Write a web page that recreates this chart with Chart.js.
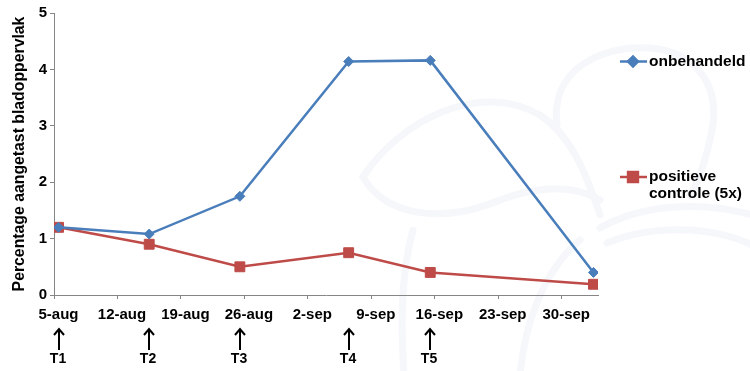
<!DOCTYPE html>
<html>
<head>
<meta charset="utf-8">
<script src="https://cdn.jsdelivr.net/npm/chart.js@4.4.1/dist/chart.umd.min.js"></script>
<style>
  html, body { margin: 0; padding: 0; background: #fff; }
  #wrap { width: 750px; height: 371px; position: relative; }
</style>
</head>
<body>
<div id="wrap"><canvas id="chart"></canvas></div>
<script>
// sampling dates and infection per series
const sampleDates = ['5-aug', '15-aug', '25-aug', '6-sep', '15-sep', '3-oct'];
const untreated = [1.2, 1.08, 1.75, 4.14, 4.16, 0.40];
const positiveControl = [1.2, 0.90, 0.50, 0.75, 0.40, 0.19];
const seriesNames = [['onbehandeld'], ['positieve', 'controle (5x)']];

// spray moments
const treatments = ['T1', 'T2', 'T3', 'T4', 'T5'];
const treatmentDates = ['5-aug', '15-aug', '25-aug', '6-sep', '15-sep'];

const tickDates = ['5-aug', '12-aug', '19-aug', '26-aug', '2-sep', '9-sep', '16-sep', '23-sep', '30-sep'];

const FONT = "'Liberation Sans', Arial, sans-serif";
const AXIS_GREY = '#868686';
const BLUE = '#4a7ebb';
const RED = '#be4b48';

const monthStart = { aug: 0, sep: 31, oct: 61 };
function dayNr(label) {
    const [d, m] = label.split('-');
    return parseInt(d) - 5 + monthStart[m];
}

function points(values) {
    return values.map((v, i) => ({ x: dayNr(sampleDates[i]), y: v }));
}

// faint logo curves in the slide background
const watermark = {
    id: 'watermark',
    beforeDraw(chart) {
        const ctx = chart.ctx;
        ctx.save();
        ctx.strokeStyle = '#f5f7fb';
        ctx.lineWidth = 7;
        ctx.lineCap = 'round';
        const paths = [
            [363, 177, 400, 120, 480, 80, 540, 115, 570, 135, 585, 170, 600, 215],
            [363, 177, 385, 215, 440, 225, 500, 200, 540, 185, 575, 185, 600, 200],
            [557, 125, 550, 70, 600, 45, 650, 48, 700, 52, 720, 90, 712, 130],
            [712, 130, 706, 160, 700, 180, 690, 195],
            [600, 228, 640, 205, 700, 200, 752, 215],
            [607, 243, 650, 225, 710, 225, 752, 245],
            [413, 230, 402, 270, 400, 320, 404, 375],
            [520, 375, 525, 320, 545, 270, 580, 240]
        ];
        paths.forEach(p => {
            ctx.beginPath();
            ctx.moveTo(p[0], p[1]);
            for (let i = 2; i < p.length; i += 6) {
                ctx.bezierCurveTo(p[i], p[i + 1], p[i + 2], p[i + 3], p[i + 4], p[i + 5]);
            }
            ctx.stroke();
        });
        ctx.restore();
    }
};

// legend on the right, Excel style (line + marker, wrapped text)
const sideLegend = {
    id: 'sideLegend',
    afterDraw(chart) {
        const ctx = chart.ctx;
        const rows = [61.5, 177];
        ctx.save();
        chart.data.datasets.forEach((ds, i) => {
            const y = rows[i];
            ctx.strokeStyle = ds.borderColor;
            ctx.lineWidth = 2.5;
            ctx.beginPath();
            ctx.moveTo(620, y);
            ctx.lineTo(647, y);
            ctx.stroke();
            Chart.helpers.drawPoint(ctx, {
                pointStyle: ds.pointStyle,
                radius: ds.pointRadius,
                borderWidth: 1
            }, 633, y);
            ctx.fillStyle = ds.backgroundColor;
            ctx.fill();
            ctx.fillStyle = '#000';
            ctx.font = 'bold 15.5px ' + FONT;
            ctx.textBaseline = 'middle';
            ctx.textAlign = 'left';
            seriesNames[i].forEach((line, j) => ctx.fillText(line, 649, y + j * 16.5));
        });
        ctx.restore();
    }
};

// arrows with treatment names under the date axis
const sprayArrows = {
    id: 'sprayArrows',
    afterDraw(chart) {
        const ctx = chart.ctx;
        const xs = chart.scales.x;
        ctx.save();
        ctx.strokeStyle = '#000';
        ctx.fillStyle = '#000';
        ctx.lineWidth = 2;
        ctx.font = 'bold 14px ' + FONT;
        ctx.textAlign = 'center';
        ctx.textBaseline = 'middle';
        treatments.forEach((t, i) => {
            const x = Math.round(xs.getPixelForValue(dayNr(treatmentDates[i])));
            ctx.beginPath();
            ctx.moveTo(x, 329);
            ctx.lineTo(x, 350);
            ctx.moveTo(x - 5, 335);
            ctx.lineTo(x, 329);
            ctx.lineTo(x + 5, 335);
            ctx.stroke();
            ctx.fillText(t, x - 1, 359);
        });
        ctx.restore();
    }
};

new Chart(document.getElementById('chart'), {
    type: 'line',
    data: {
        datasets: [{
            label: 'onbehandeld',
            data: points(untreated),
            borderColor: BLUE,
            backgroundColor: BLUE,
            borderWidth: 2.5,
            pointStyle: 'rectRot',
            pointRadius: 5,
            pointBorderWidth: 1
        }, {
            label: 'positieve controle (5x)',
            data: points(positiveControl),
            borderColor: RED,
            backgroundColor: RED,
            borderWidth: 2.5,
            pointStyle: 'rect',
            pointRadius: 7,
            pointBorderWidth: 1
        }]
    },
    options: {
        responsive: true,
        maintainAspectRatio: false,
        animation: false,
        layout: { padding: { top: 13, right: 152, left: 0, bottom: 0 } },
        plugins: {
            legend: { display: false },
            tooltip: { enabled: false }
        },
        scales: {
            x: {
                type: 'linear',
                min: -0.5,
                max: 59.5,
                afterBuildTicks(scale) {
                    scale.ticks = tickDates.map(t => ({ value: dayNr(t) - 0.5 }));
                },
                afterFit(scale) { scale.height = 76; },
                ticks: {
                    autoSkip: false,
                    maxRotation: 0,
                    labelOffset: 4.5,
                    padding: 7,
                    color: '#000',
                    font: { family: FONT, size: 15, weight: 'bold' },
                    callback(value) {
                        const t = tickDates.find(d => dayNr(d) - 0.5 === value);
                        return t || '';
                    }
                },
                grid: { drawOnChartArea: false, color: AXIS_GREY, tickLength: 4 },
                border: { color: AXIS_GREY, width: 1 }
            },
            y: {
                min: 0,
                max: 5,
                afterFit(scale) { scale.width = 54; },
                ticks: {
                    stepSize: 1,
                    padding: 3,
                    color: '#000',
                    font: { family: FONT, size: 15, weight: 'bold' }
                },
                grid: { drawOnChartArea: false, color: AXIS_GREY, tickLength: 4 },
                border: { color: AXIS_GREY, width: 1 },
                title: {
                    display: true,
                    text: 'Percentage aangetast bladoppervlak',
                    color: '#000',
                    font: { family: FONT, size: 15.8, weight: 'bold' },
                    padding: { top: 10.5, bottom: 0 }
                }
            }
        }
    },
    plugins: [watermark, sideLegend, sprayArrows]
});
</script>
</body>
</html>
